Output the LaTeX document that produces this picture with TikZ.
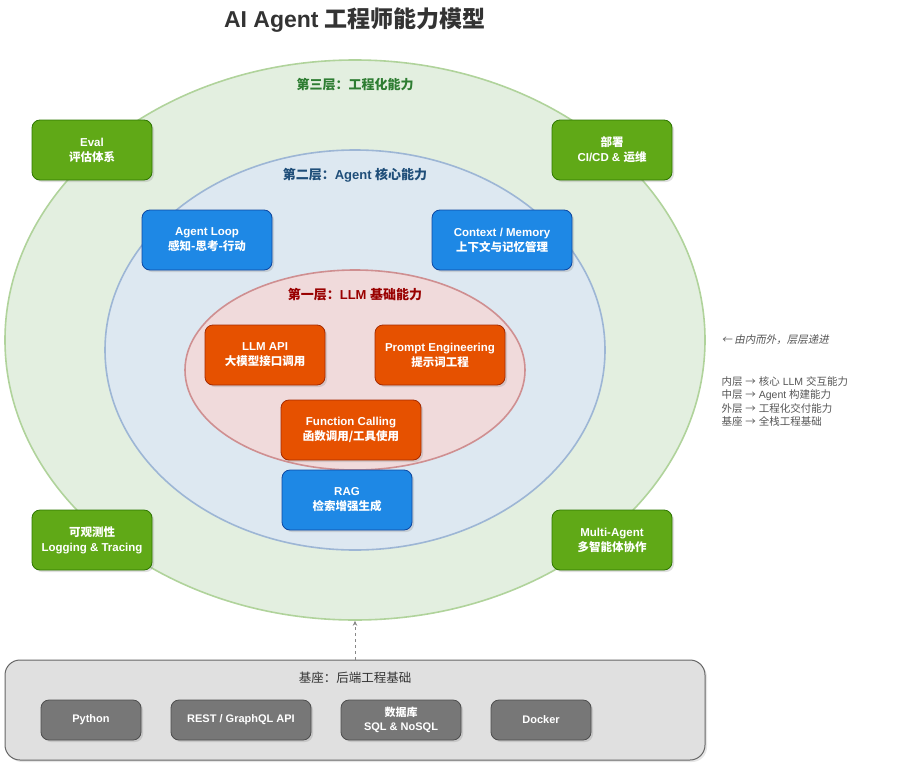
\documentclass[tikz,border=0pt]{standalone}
\usepackage{fontspec}
\setmainfont{Liberation Sans}
\newfontfamily\cjk{Noto Sans CJK SC}
\newfontfamily\cjkit[FakeSlant=0.2]{Noto Sans CJK SC}
\usetikzlibrary{shapes.geometric,shadows,arrows.meta}
\definecolor{outerfill}{HTML}{E3EFE0}
\definecolor{outerline}{HTML}{B0D39B}
\definecolor{midfill}{HTML}{DDE8F1}
\definecolor{midline}{HTML}{9DB6D5}
\definecolor{innerfill}{HTML}{F0DADB}
\definecolor{innerline}{HTML}{CF8F91}
\definecolor{greenfill}{HTML}{60A917}
\definecolor{greenline}{HTML}{2D7600}
\definecolor{bluefill}{HTML}{1E88E5}
\definecolor{blueline}{HTML}{0D47A1}
\definecolor{orangefill}{HTML}{E65100}
\definecolor{orangeline}{HTML}{A52A00}
\definecolor{greyfill}{HTML}{777777}
\definecolor{greyline}{HTML}{4D4D4D}
\definecolor{basefill}{HTML}{E0E0E0}
\definecolor{baseline}{HTML}{666666}
\definecolor{greentxt}{HTML}{2E7D32}
\definecolor{bluetxt}{HTML}{1F4E79}
\definecolor{redtxt}{HTML}{990000}
\definecolor{titletxt}{HTML}{333333}
\definecolor{notetxt}{HTML}{555555}
\definecolor{linkgray}{HTML}{888888}
\tikzset{>=Stealth,
  layer/.style={ellipse,line width=1.6pt,inner sep=0pt},
  tag/.style={font=\bfseries\fontsize{13}{15}\selectfont},
  box/.style={rectangle,rounded corners=8pt,line width=0.8pt,text=white,
    font=\bfseries\fontsize{11.5}{15}\selectfont,align=center,minimum height=60pt,
    inner sep=2pt,drop shadow={shadow xshift=2pt,shadow yshift=-2pt,opacity=0.25}},
  greenbox/.style={box,fill=greenfill,draw=greenline,minimum width=120pt},
  bluebox/.style={box,fill=bluefill,draw=blueline},
  orangebox/.style={box,fill=orangefill,draw=orangeline},
  greybox/.style={box,fill=greyfill,draw=greyline,minimum height=40pt,
    font=\bfseries\fontsize{11}{14}\selectfont}
}
\newcommand\toarrow{{\cjk →}}
\begin{document}
\begin{tikzpicture}[x=1pt,y=-1pt]
\useasboundingbox (0,0) rectangle (901,768);
\node[text=titletxt,font=\bfseries\fontsize{23}{26}\selectfont] (title) at (355,20) {AI Agent {\cjk 工程师能力模型}};
\node[layer,fill=outerfill,draw=outerline,minimum width=700,minimum height=560] (outer) at (355,340) {};
\node[layer,fill=midfill,draw=midline,minimum width=500,minimum height=400] (middle) at (355,350) {};
\node[layer,fill=innerfill,draw=innerline,minimum width=340,minimum height=200] (inner) at (355,370) {};
\node[tag,text=greentxt] (outerlbl) at (355,85) {\cjk 第三层：工程化能力};
\node[tag,text=bluetxt] (midlbl) at (355,175) {{\cjk 第二层：}Agent {\cjk 核心能力}};
\node[tag,text=redtxt] (innerlbl) at (355,295) {{\cjk 第一层：}LLM {\cjk 基础能力}};
\node[greenbox] (eval) at (92,150) {Eval\\{\cjk 评估体系}};
\node[greenbox] (deploy) at (612,150) {{\cjk 部署}\\CI/CD \& {\cjk 运维}};
\node[greenbox] (observe) at (92,540) {{\cjk 可观测性}\\Logging \& Tracing};
\node[greenbox] (multi) at (612,540) {Multi-Agent\\{\cjk 多智能体协作}};
\node[bluebox,minimum width=130pt] (loop) at (207,240) {Agent Loop\\{\cjk 感知-思考-行动}};
\node[bluebox,minimum width=140pt] (memory) at (502,240) {Context / Memory\\{\cjk 上下文与记忆管理}};
\node[bluebox,minimum width=130pt] (rag) at (347,500) {RAG\\{\cjk 检索增强生成}};
\node[orangebox,minimum width=120pt] (api) at (265,355) {LLM API\\{\cjk 大模型接口调用}};
\node[orangebox,minimum width=130pt] (prompt) at (440,355) {Prompt Engineering\\{\cjk 提示词工程}};
\node[orangebox,minimum width=140pt] (func) at (351,430) {Function Calling\\{\cjk 函数调用/工具使用}};
\node[rectangle,rounded corners=15pt,fill=basefill,draw=baseline,line width=1pt,
  minimum width=700pt,minimum height=100pt,
  drop shadow={shadow xshift=2pt,shadow yshift=-2pt,opacity=0.2}] (base) at (355,710) {};
\node[text=titletxt,font=\fontsize{12.5}{15}\selectfont] (baselbl) at (355,678) {\cjk 基座：后端工程基础};
\node[greybox,minimum width=100pt] (python) at (91,720) {Python};
\node[greybox,minimum width=140pt] (rest) at (241,720) {REST / GraphQL API};
\node[greybox,minimum width=120pt] (db) at (401,720) {{\cjk 数据库}\\SQL \& NoSQL};
\node[greybox,minimum width=100pt] (docker) at (541,720) {Docker};
\draw[-{Stealth[length=5pt,width=4.5pt]},dashed,draw=linkgray,line width=0.7pt] (base.north) -- (outer.south);
\node[anchor=west,text=notetxt,font=\fontsize{10.5}{13}\selectfont] (note) at (718,340) {\cjkit ← 由内而外，层层递进};
\node[anchor=north west,text=notetxt,align=left,font=\fontsize{10.5}{13.5}\selectfont] (legend) at (718,373)
  {{\cjk 内层} \toarrow{} {\cjk 核心} LLM {\cjk 交互能力}\\
   {\cjk 中层} \toarrow{} Agent {\cjk 构建能力}\\
   {\cjk 外层} \toarrow{} {\cjk 工程化交付能力}\\
   {\cjk 基座} \toarrow{} {\cjk 全栈工程基础}};
\end{tikzpicture}
\end{document}
